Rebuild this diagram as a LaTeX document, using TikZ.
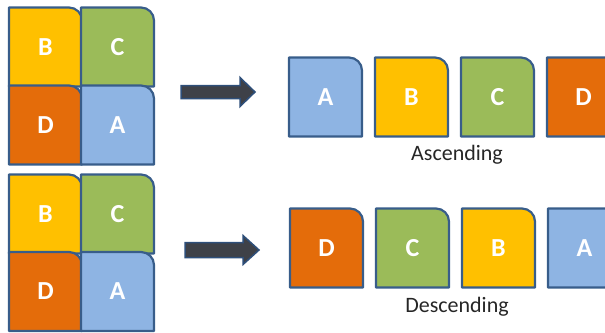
\documentclass[tikz,border=0pt]{standalone}
\usepackage{fontspec}
\setmainfont{Carlito}
\usepackage{tikz}
\usetikzlibrary{positioning}

\definecolor{cardyellow}{HTML}{FFC000}
\definecolor{cardgreen}{HTML}{9BBB59}
\definecolor{cardorange}{HTML}{E46C0A}
\definecolor{cardblue}{HTML}{8EB4E3}
\definecolor{cardedge}{HTML}{385D8A}
\definecolor{arrowfill}{HTML}{3E4148}
\definecolor{arrowedge}{HTML}{2E4F7A}

% one card: name, centre, colour, letter
\newcommand{\card}[4]{%
  \draw[cardline, fill=#3] (#2) ++(-36.5,-39.5) -- ++(0,79) -- ++(60,0)
    arc[start angle=90, end angle=0, radius=13] -- ++(0,-66) -- cycle;
  \node[letter] (#1) at (#2) {#4};
}

\begin{document}
\begin{tikzpicture}[
  x=1pt, y=1pt,
  cardline/.style={draw=cardedge, line width=2.2pt, line join=round},
  letter/.style={text=white, font=\fontsize{26}{30}\selectfont\bfseries, inner sep=0pt},
  caption/.style={font=\fontsize{22}{26}\selectfont, text=black!85, anchor=base, inner sep=0pt},
  blockarrow/.style={fill=arrowfill, draw=arrowedge, line width=1.5pt, line join=miter}
]
\clip (0,0) rectangle (605,-332);

% unsorted grids
\card{gB1}{45.5,-47}{cardyellow}{B}
\card{gC1}{117.5,-47}{cardgreen}{C}
\card{gD1}{45.5,-125}{cardorange}{D}
\card{gA1}{117.5,-125}{cardblue}{A}

\card{gB2}{45.5,-214}{cardyellow}{B}
\card{gC2}{117.5,-214}{cardgreen}{C}
\card{gD2}{45.5,-291.5}{cardorange}{D}
\card{gA2}{117.5,-291.5}{cardblue}{A}

% sorted rows
\card{aA}{325.5,-97}{cardblue}{A}
\card{aB}{411.5,-97}{cardyellow}{B}
\card{aC}{497.5,-97}{cardgreen}{C}
\card{aD}{583.5,-97}{cardorange}{D}

\card{dD}{326.5,-248}{cardorange}{D}
\card{dC}{412.5,-248}{cardgreen}{C}
\card{dB}{498.5,-248}{cardyellow}{B}
\card{dA}{584.5,-248}{cardblue}{A}

\node[caption] (asc) at (457,-160) {Ascending};
\node[caption] (desc) at (457,-312) {Descending};

% block arrows
\coordinate (ascTail) at (181,-92);
\draw[blockarrow] (ascTail) -- ++(0,6.5) -- ++(59,0) -- ++(0,8) -- ++(15,-14.5)
  -- ++(-15,-14.5) -- ++(0,8) -- ++(-59,0) -- cycle;
\coordinate (descTail) at (185,-250);
\draw[blockarrow] (descTail) -- ++(0,7.5) -- ++(58,0) -- ++(0,7) -- ++(16,-14.5)
  -- ++(-16,-14.5) -- ++(0,7) -- ++(-58,0) -- cycle;
\end{tikzpicture}
\end{document}
